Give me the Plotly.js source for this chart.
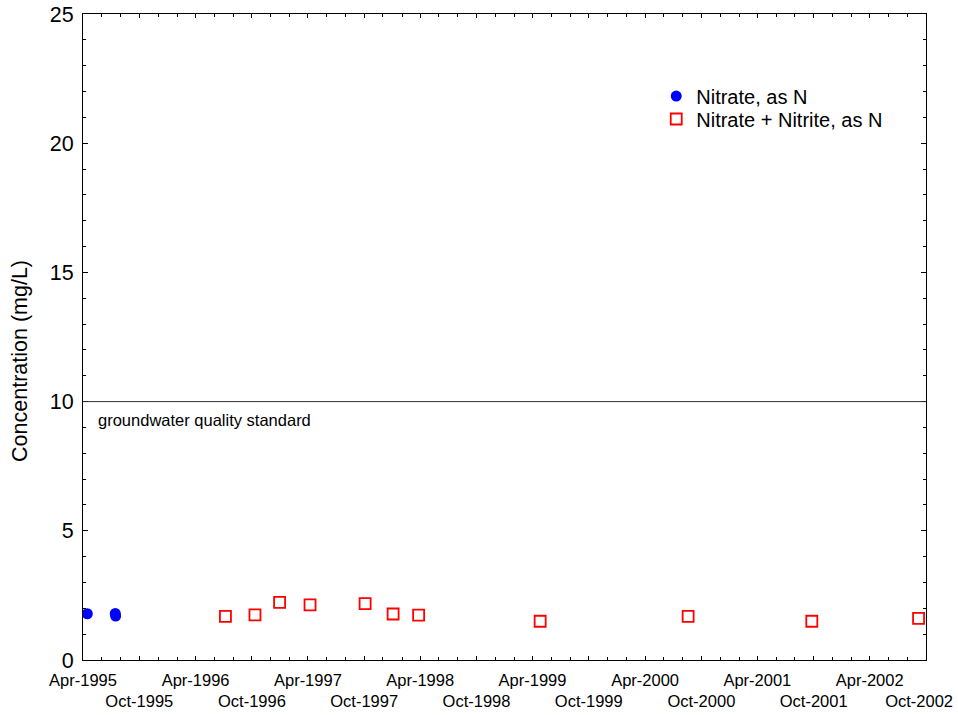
<!DOCTYPE html>
<html>
<head>
<meta charset="utf-8">
<script src="https://cdn.plot.ly/plotly-3.0.1.min.js"></script>
<style>html,body{margin:0;padding:0;background:#fff;}#chart{width:958px;height:715px;}</style>
</head>
<body>
<div id="chart"></div>
<script>
// Nitrate, as N
var nitrateDates = ["1995-04-15", "1995-07-15", "1995-07-16"];
var nitrateValues = [1.79, 1.80, 1.70];

// Nitrate + Nitrite, as N
var nnDates = ["1996-07-07", "1996-10-11", "1996-12-30", "1997-04-08", "1997-10-04",
               "1998-01-03", "1998-03-27", "1999-04-26", "2000-08-19", "2001-09-25", "2002-09-07"];
var nnValues = [1.69, 1.75, 2.23, 2.13, 2.18, 1.78, 1.74, 1.50, 1.69, 1.50, 1.61];

// groundwater quality standard
var standardValue = 10;
var standardLabel = "groundwater quality standard";
var yTitle = "Concentration (mg/L)";

// x tick labels
var xTickVals = ["1995-04-01","1995-10-01","1996-04-01","1996-10-01","1997-04-01","1997-10-01",
                 "1998-04-01","1998-10-01","1999-04-01","1999-10-01","2000-04-01","2000-10-01",
                 "2001-04-01","2001-10-01","2002-04-01","2002-10-01"];
var xTickText = ["Apr-1995","Oct-1995","Apr-1996","Oct-1996","Apr-1997","Oct-1997",
                 "Apr-1998","Oct-1998","Apr-1999","Oct-1999","Apr-2000","Oct-2000",
                 "Apr-2001","Oct-2001","Apr-2002","Oct-2002"];
var yTickVals = [0, 5, 10, 15, 20, 25];

var tickTextShown = xTickText.map(function(t, i){
  var s = i % 2 === 0 ? t : "<br>" + t;
  if (i === xTickText.length - 1) s += "&nbsp;&nbsp;&nbsp;";
  return s;
});

var traces = [
  {
    x: nitrateDates, y: nitrateValues, type: "scatter", mode: "markers",
    name: "Nitrate, as N", legend: "legend",
    marker: {symbol: "circle", size: 11, color: "#0000ff", line: {width: 0}}
  },
  {
    x: nnDates, y: nnValues, type: "scatter", mode: "markers",
    name: "Nitrate + Nitrite, as N", legend: "legend2",
    marker: {symbol: "square-open", size: 11, color: "#ff0000", line: {width: 1.8, color: "#ff0000"}}
  }
];

var legendFont = {size: 20, color: "#000"};

var layout = {
  width: 958, height: 715,
  margin: {l: 83, r: 32, t: 14, b: 55},
  paper_bgcolor: "#fff", plot_bgcolor: "#fff",
  font: {family: "Liberation Sans, Arial, sans-serif", color: "#000"},
  showlegend: true,
  legend: {x: 0.68, y: 0.873, xanchor: "left", yanchor: "middle",
           font: legendFont, bgcolor: "rgba(0,0,0,0)"},
  legend2: {x: 0.68, y: 0.8375, xanchor: "left", yanchor: "middle",
           font: legendFont, bgcolor: "rgba(0,0,0,0)"},
  xaxis: {
    type: "date",
    range: ["1995-04-01", "2002-10-01 04:00"],
    tickmode: "array", tickvals: xTickVals, ticktext: tickTextShown,
    tickangle: 0, ticklabelstandoff: 5, ticklabeloverflow: "allow",
    ticks: "inside", ticklen: 4, tickwidth: 1, tickcolor: "#000",
    minor: {dtick: "M2", tick0: "1995-04-01", ticks: "inside", ticklen: 3, tickcolor: "#000", showgrid: false},
    showline: true, linecolor: "#000", linewidth: 1, mirror: "ticks",
    showgrid: false, zeroline: false,
    tickfont: {size: 16.5, color: "#000"}
  },
  yaxis: {
    range: [0, 25],
    tickmode: "array", tickvals: yTickVals,
    ticks: "inside", ticklen: 5, tickwidth: 1, tickcolor: "#000", ticklabelstandoff: 4,
    minor: {dtick: 1, ticks: "inside", ticklen: 3, tickcolor: "#000", showgrid: false},
    showline: true, linecolor: "#000", linewidth: 1, mirror: "ticks",
    showgrid: false, zeroline: false,
    tickfont: {size: 21.5, color: "#000"}
  },
  shapes: [{
    type: "line", xref: "paper", x0: 0, x1: 1, yref: "y", y0: standardValue, y1: standardValue,
    line: {color: "#333", width: 1}
  }],
  annotations: [
    {
      xref: "paper", x: 0.016, xanchor: "left", yref: "y", y: standardValue - 0.3, yanchor: "top",
      text: standardLabel, showarrow: false, font: {size: 16.5, color: "#000"}
    },
    {
      xref: "paper", x: -0.0747, xanchor: "center", yref: "paper", y: 0.463, yanchor: "middle",
      text: yTitle, textangle: -90, showarrow: false, font: {size: 21.5, color: "#000"}
    }
  ]
};

Plotly.newPlot("chart", traces, layout, {displayModeBar: false, staticPlot: true});
</script>
</body>
</html>
